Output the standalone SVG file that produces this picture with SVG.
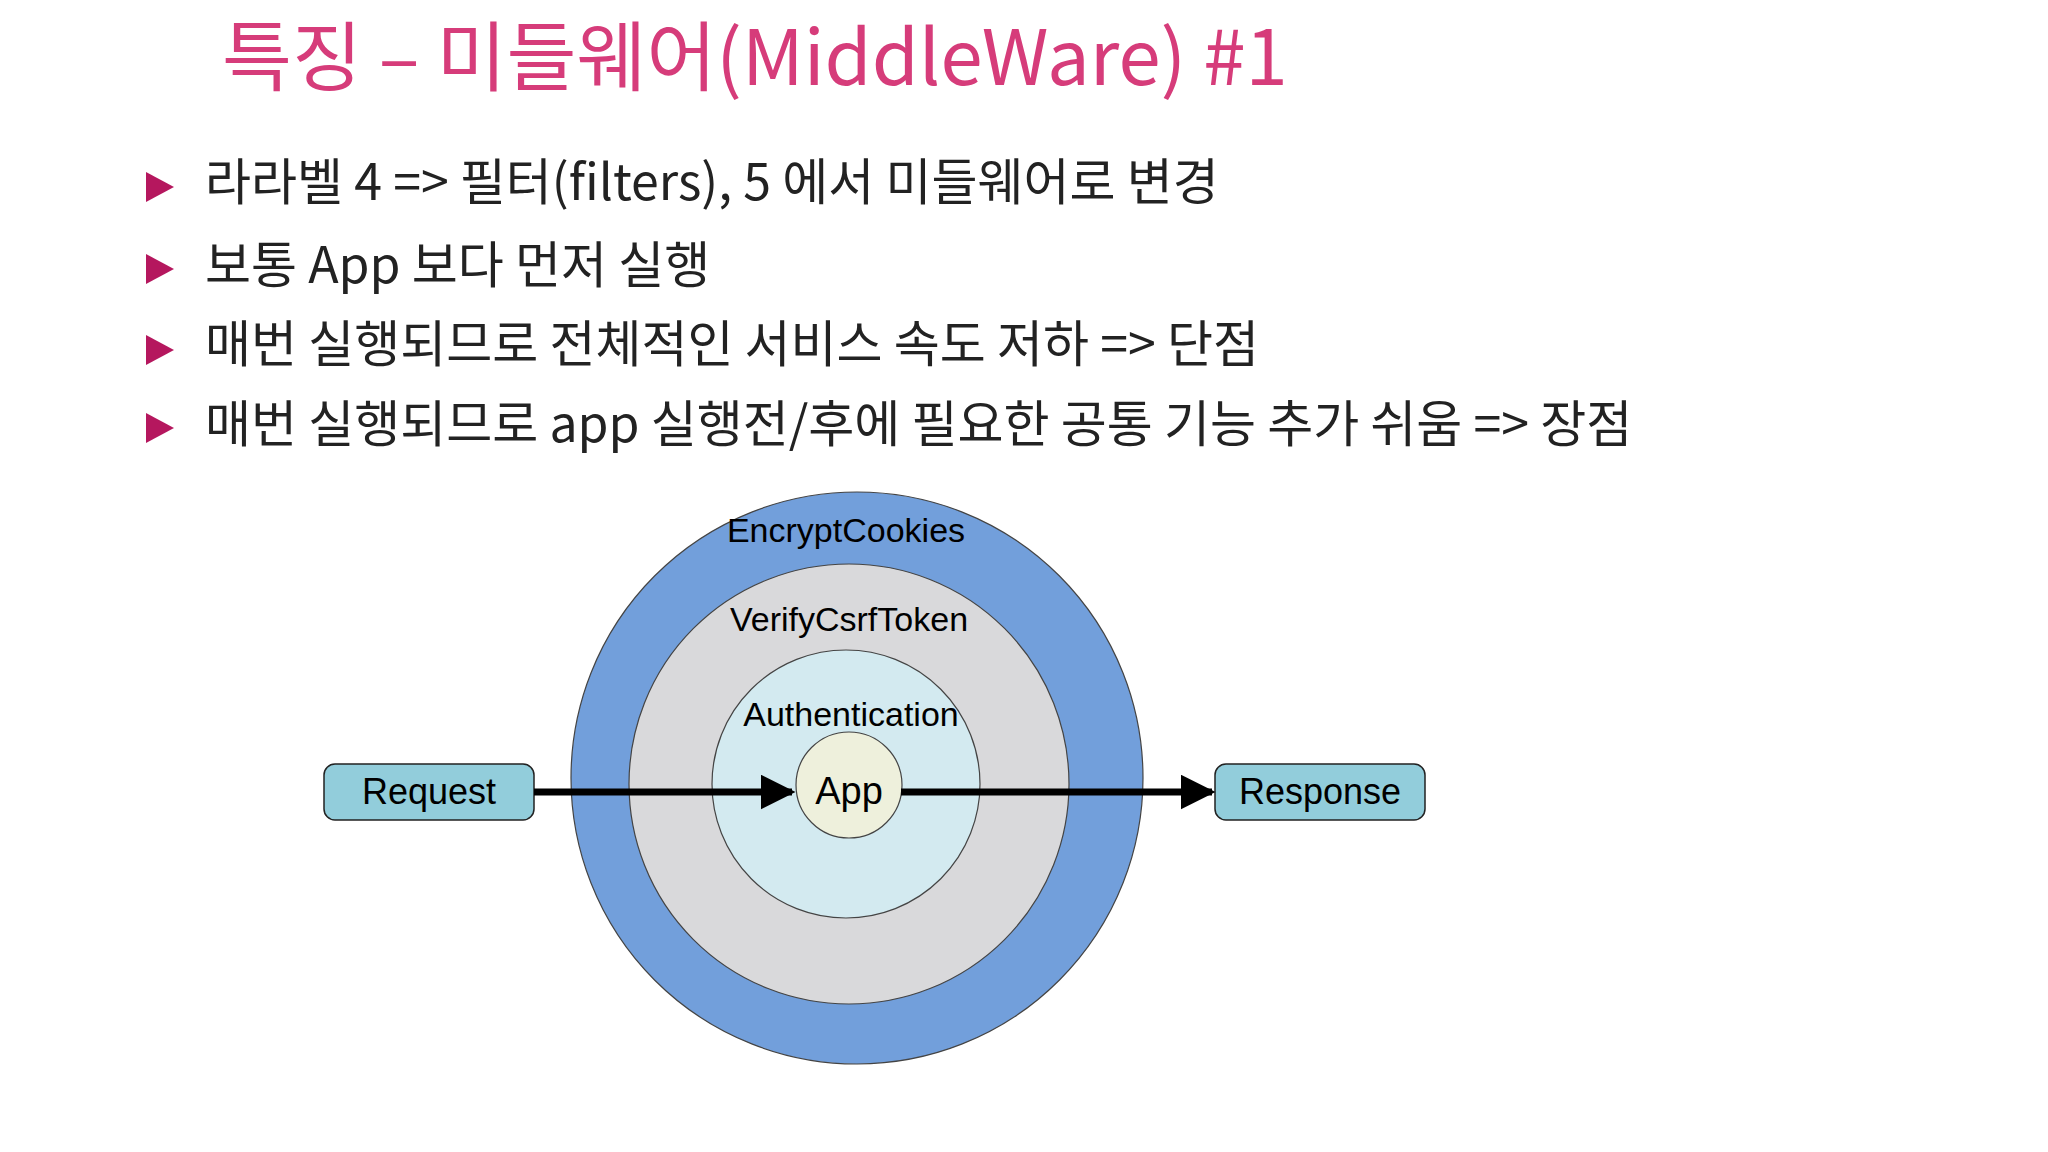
<svg xmlns="http://www.w3.org/2000/svg" width="2048" height="1152" viewBox="0 0 2048 1152">
<style>
.t{font-family:"Noto Sans CJK KR","Noto Sans",sans-serif;fill:#222}
.b{font-size:50px}
.l{font-family:"Liberation Sans",Arial,sans-serif;fill:#000;text-anchor:middle}
.c{stroke:#444;stroke-width:1.2}
.box{fill:#92cddb;stroke:#222;stroke-width:1.5}
</style>
<defs><marker id="ah" markerWidth="5" markerHeight="5" refX="4.5" refY="2.5" orient="auto" markerUnits="strokeWidth"><path d="M0,0 L5,2.5 L0,5z" fill="#000"/></marker></defs>
<rect width="2048" height="1152" fill="#fff"/>
<text class="t" x="222" y="85" font-size="76" fill="#d63c7a" style="fill:#d63c7a">특징 – 미들웨어(MiddleWare) #1</text>
<g fill="#b5175e"><polygon points="146,172 174,187 146,202"/><polygon points="146,254 174,269 146,284"/><polygon points="146,335 174,350 146,365"/><polygon points="146,413 174,428 146,443"/></g>
<text class="t b" x="205" y="200">라라벨 4 =&gt; 필터(filters), 5 에서 미들웨어로 변경</text>
<text class="t b" x="205" y="283">보통 App 보다 먼저 실행</text>
<text class="t b" x="205" y="362">매번 실행되므로 전체적인 서비스 속도 저하  =&gt; 단점</text>
<text class="t b" x="205" y="442">매번 실행되므로 app 실행전/후에 필요한 공통 기능 추가 쉬움 =&gt; 장점</text>
<g id="encrypt"><circle class="c" cx="857" cy="778" r="286" fill="#729fdb"/><text class="l" x="846" y="542" font-size="34">EncryptCookies</text></g>
<g id="verify"><circle class="c" cx="849" cy="784" r="220" fill="#d9d9db"/><text class="l" x="849" y="631" font-size="34">VerifyCsrfToken</text></g>
<g id="auth"><circle class="c" cx="846" cy="784" r="134" fill="#d3eaf0"/><text class="l" x="851" y="726" font-size="34">Authentication</text></g>
<g id="app"><circle class="c" cx="849" cy="785" r="53" fill="#eef0dc"/><text class="l" x="849" y="804" font-size="38">App</text></g>
<g id="request"><rect class="box" x="324" y="764" width="210" height="56" rx="11"/><text class="l" x="429" y="804" font-size="36">Request</text></g>
<g id="response"><rect class="box" x="1215" y="764" width="210" height="56" rx="11"/><text class="l" x="1320" y="804" font-size="36">Response</text></g>
<g id="connectors" stroke="#000" stroke-width="7" fill="none">
<line x1="534" y1="792" x2="792" y2="792" marker-end="url(#ah)"/>
<line x1="901" y1="792" x2="1212" y2="792" marker-end="url(#ah)"/>
</g>
</svg>
